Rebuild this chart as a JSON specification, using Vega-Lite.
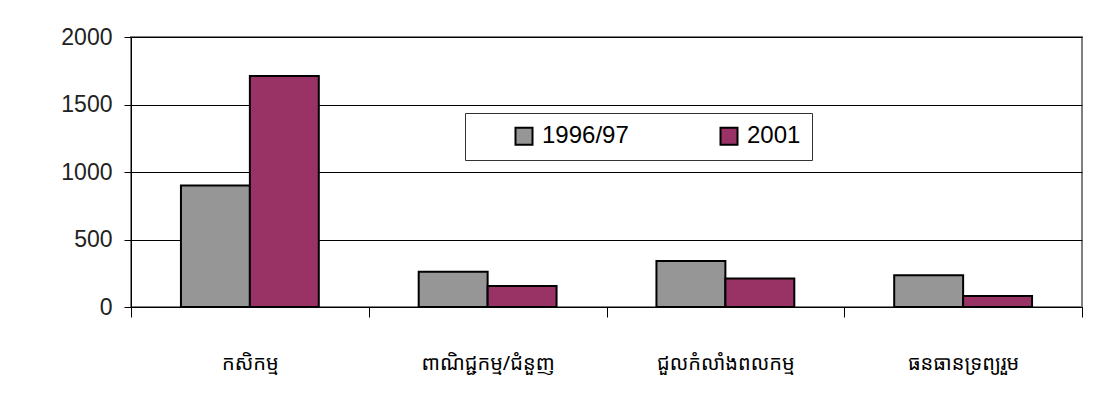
{
  "$schema": "https://vega.github.io/schema/vega-lite/v6.json",
  "width": 951,
  "height": 270,
  "autosize": {"type": "none"},
  "padding": {"left": 131, "top": 37, "right": 20, "bottom": 99},
  "background": "white",
  "data": {
    "values": [
      {"sector": "កសិកម្ម", "year": "1996/97", "value": 900},
      {"sector": "កសិកម្ម", "year": "2001", "value": 1712},
      {"sector": "ពាណិជ្ជកម្ម/ជំនួញ", "year": "1996/97", "value": 262},
      {"sector": "ពាណិជ្ជកម្ម/ជំនួញ", "year": "2001", "value": 155},
      {"sector": "ជួលកំលាំងពលកម្ម", "year": "1996/97", "value": 340},
      {"sector": "ជួលកំលាំងពលកម្ម", "year": "2001", "value": 212},
      {"sector": "ធនធានទ្រព្យរួម", "year": "1996/97", "value": 235},
      {"sector": "ធនធានទ្រព្យរួម", "year": "2001", "value": 81}
    ]
  },
  "mark": {"type": "bar", "stroke": "black", "strokeWidth": 2},
  "encoding": {
    "x": {
      "field": "sector",
      "type": "nominal",
      "sort": null,
      "scale": {"paddingInner": 0, "paddingOuter": 0},
      "axis": {
        "title": null,
        "labelAngle": 0,
        "tickBand": "extent",
        "tickSize": 10,
        "tickColor": "black",
        "domainColor": "black",
        "labelPadding": 36,
        "labelFont": "Noto Sans Khmer, Noto Sans, DejaVu Sans, sans-serif",
        "labelFontSize": 20,
        "labelColor": "black",
        "grid": false
      }
    },
    "xOffset": {
      "field": "year",
      "type": "nominal",
      "scale": {"paddingInner": 0, "paddingOuter": 0.7246}
    },
    "y": {
      "field": "value",
      "type": "quantitative",
      "scale": {"domain": [0, 2000], "nice": false},
      "axis": {
        "title": null,
        "values": [0, 500, 1000, 1500, 2000],
        "format": "d",
        "tickSize": 7,
        "tickColor": "black",
        "domainColor": "black",
        "gridColor": "black",
        "gridOpacity": 1,
        "labelFont": "Liberation Sans",
        "labelFontSize": 23,
        "labelColor": "#222",
        "labelPadding": 12
      }
    },
    "color": {
      "field": "year",
      "type": "nominal",
      "scale": {"domain": ["1996/97", "2001"], "range": ["#969696", "#993366"]},
      "legend": {
        "title": null,
        "orient": "none",
        "direction": "horizontal",
        "legendX": 334,
        "legendY": 76,
        "padding": 11,
        "symbolOffset": 36,
        "columnPadding": 52,
        "gridAlign": "all",
        "symbolType": "square",
        "symbolSize": 289,
        "symbolStrokeColor": "black",
        "symbolStrokeWidth": 2,
        "labelFont": "Liberation Sans",
        "labelFontSize": 24,
        "labelColor": "black",
        "labelOffset": 6,
        "strokeColor": "#333",
        "fillColor": "white"
      }
    }
  },
  "config": {
    "view": {"stroke": "#808080", "strokeWidth": 2}
  }
}
